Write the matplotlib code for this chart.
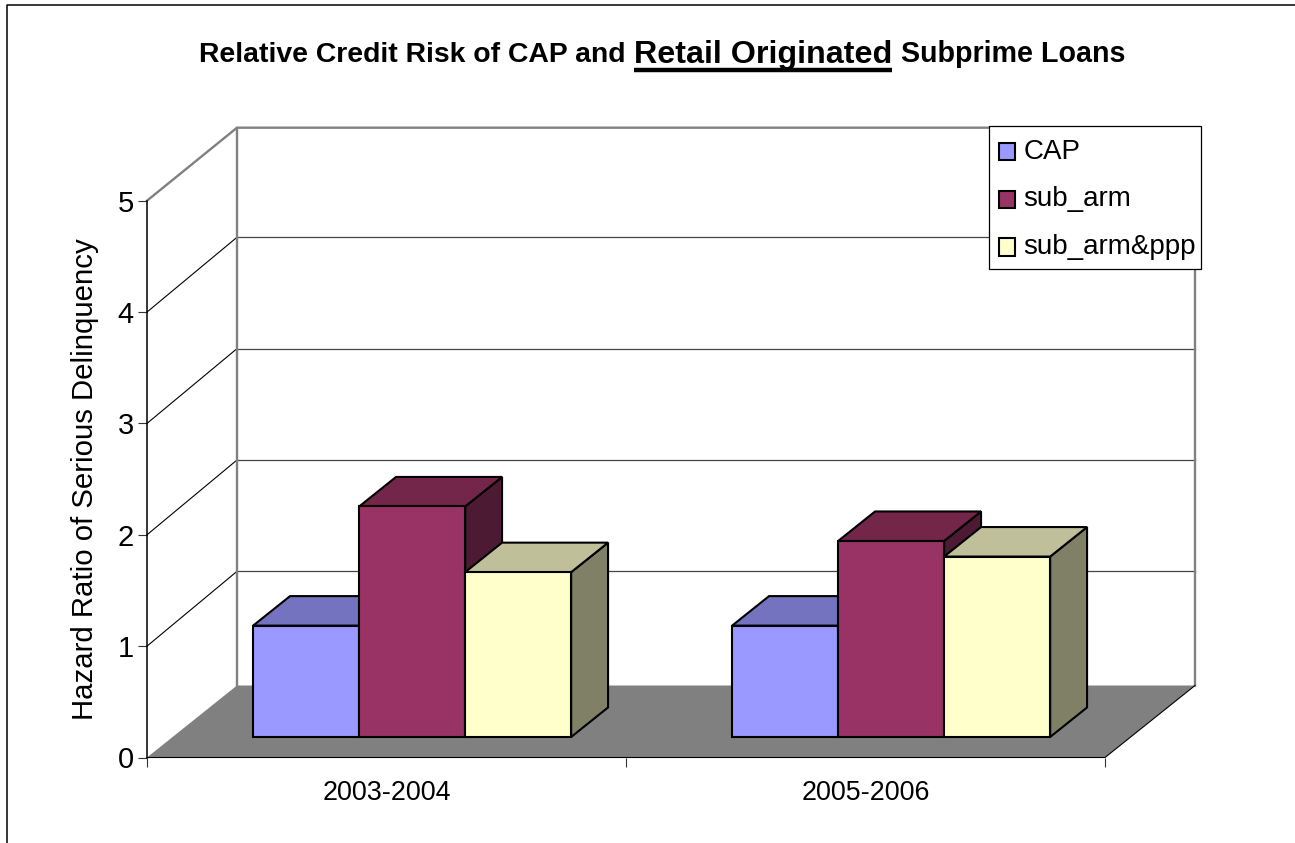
import matplotlib
matplotlib.use('Agg')
import matplotlib.pyplot as plt
from matplotlib.lines import Line2D
from matplotlib.patches import Patch, Polygon, Rectangle

plt.rcParams['font.family'] = ['Liberation Sans', 'DejaVu Sans']

W, H = 1295, 843

periods = ['2003-2004', '2005-2006']
series = ['CAP', 'sub_arm', 'sub_arm&ppp']
cap = [1.0, 1.0]
sub_arm = [2.07, 1.76]
sub_arm_ppp = [1.48, 1.62]
y_ticks = [0, 1, 2, 3, 4, 5]

C_FRONT = ['#9999FF', '#993366', '#FFFFCC']
C_TOP = ['#7373BF', '#732649', '#BFBF99']
C_SIDE = ['#4D4D80', '#4D1A33', '#808066']
C_WALL = '#808080'

# pixel box of the front plane, and the depth of the fake 3D
X0, X1, Y0, Y1 = 147, 1105, 757.5, 200.7
UNIT_Y = (Y0 - Y1) / 5
DX = 90 / (X1 - X0) * 2      # data units along x for the full depth
DY = 72 / UNIT_Y             # floor depth
DY_GRID = 74.8 / UNIT_Y      # inner gridlines sit a bit higher on the back wall
DY_TOP = 73 / UNIT_Y
BAR_W = 0.2213
D_FRONT, D_BAR = 0.285, 0.41


def box(ax, left, value, d0, d1, width, colors):
    """One 3D column: side, top, then front, all from data values."""
    x = left
    bx, by = DX * d1, DY * d1
    fy = DY * d0
    front, top, side = colors
    kw = dict(ec='black', lw=1.5, joinstyle='miter', clip_on=False, zorder=5)
    ax.add_patch(Polygon([(x + width, fy), (x + width + bx, fy + by),
                          (x + width + bx, fy + by + value), (x + width, fy + value)],
                         fc=side, **kw))
    ax.add_patch(Polygon([(x, fy + value), (x + bx, fy + value + by),
                          (x + width + bx, fy + value + by), (x + width, fy + value)],
                         fc=top, **kw))
    ax.add_patch(Rectangle((x, fy), width, value, fc=front, **kw))


fig = plt.figure(figsize=(W / 100, H / 100), dpi=100)
# chart-area border: only its top and left edges are inside the picture
fig.add_artist(Line2D([6.5 / W, 6.5 / W, 1], [0, 1 - 5 / H, 1 - 5 / H], color='black', lw=1.1))
ax = fig.add_axes([X0 / W, 1 - Y0 / H, (X1 - X0) / W, (Y0 - Y1) / H])
ax.set_xlim(0, 2)
ax.set_ylim(0, 5)
ax.patch.set_visible(False)
for s in ax.spines.values():
    s.set_visible(False)

# floor
ax.add_patch(Polygon([(0, 0), (DX, DY), (2 + DX, DY), (2, 0)], fc=C_WALL, ec='none', clip_on=False, zorder=1))
# walls and gridlines
for v in y_ticks[1:-1]:
    ax.plot([DX, 2 + DX], [v + DY_GRID, v + DY_GRID], color='#454545', lw=0.9, clip_on=False, zorder=2)
    ax.plot([0, DX], [v, v + DY_GRID], color='black', lw=0.8, clip_on=False, zorder=2)
ax.plot([0, DX, 2 + DX, 2 + DX], [5, 5 + DY_TOP, 5 + DY_TOP, DY], color=C_WALL, lw=1.7, clip_on=False, zorder=2)
ax.plot([DX, DX], [DY, 5 + DY_TOP], color=C_WALL, lw=1.7, clip_on=False, zorder=2)
ax.plot([0, 0], [0, 5], color='black', lw=1.1, clip_on=False, zorder=3)
ax.plot([0, 2, 2 + DX], [0, 0, DY], color='black', lw=0.8, clip_on=False, zorder=3)

values = [cap, sub_arm, sub_arm_ppp]
for i in range(len(periods)):
    for j in range(len(series)):
        left = i + 0.5 + (j - 1.5) * BAR_W + DX * D_FRONT
        box(ax, left, values[j][i], D_FRONT, D_BAR, BAR_W, (C_FRONT[j], C_TOP[j], C_SIDE[j]))

ax.set_yticks(y_ticks)
ax.set_xticks([0, 1, 2])
ax.set_xticklabels([])
ax.set_xticks([0.5, 1.5], minor=True)
ax.set_xticklabels(periods, minor=True, fontsize=19.4)
ax.tick_params(axis='x', which='major', length=6.5, width=0.8, color='#333333')
ax.tick_params(axis='x', which='minor', length=0, pad=16)
ax.tick_params(axis='y', length=6.5, width=0.8, color='#333333', labelsize=21, pad=3)

fig.text(85 / W, 1 - 479 / H, 'Hazard Ratio of Serious Delinquency', rotation=90,
         ha='center', va='center', fontsize=21.2)

# title is three pieces since the middle one is bigger and underlined
fig.text(199 / W, 1 - 62 / H, 'Relative Credit Risk of CAP and', fontsize=20.4, fontweight='bold', va='baseline')
fig.text(634 / W, 1 - 62.5 / H, 'Retail Originated', fontsize=23.2, fontweight='bold', va='baseline')
fig.text(901 / W, 1 - 62 / H, 'Subprime Loans', fontsize=20.6, fontweight='bold', va='baseline')
fig.add_artist(Line2D([634 / W, 891.5 / W], [1 - 70 / H, 1 - 70 / H], color='black', lw=3.2,
                      solid_capstyle='butt'))

# legend frame is separate: its right padding is narrower than its left
fig.add_artist(Rectangle((988.5 / W, 1 - 269 / H), 212.5 / W, 143 / H, transform=fig.transFigure,
                         fc='white', ec='black', lw=0.9, zorder=9))
handles = [Patch(fc=c, ec='black', lw=1.5, label=s) for c, s in zip(C_FRONT, series)]
leg = fig.legend(handles=handles, loc='upper left', bbox_to_anchor=(989 / W, 1 - 128.5 / H),
                 borderaxespad=0, fontsize=20, frameon=False, borderpad=0.37, labelspacing=0.78,
                 handlelength=0.58, handleheight=0.58, handletextpad=0.28)
leg.set_zorder(10)
for p in leg.get_patches():
    p.set_y(p.get_y() - 2)

fig.savefig('out.png', dpi=100)
